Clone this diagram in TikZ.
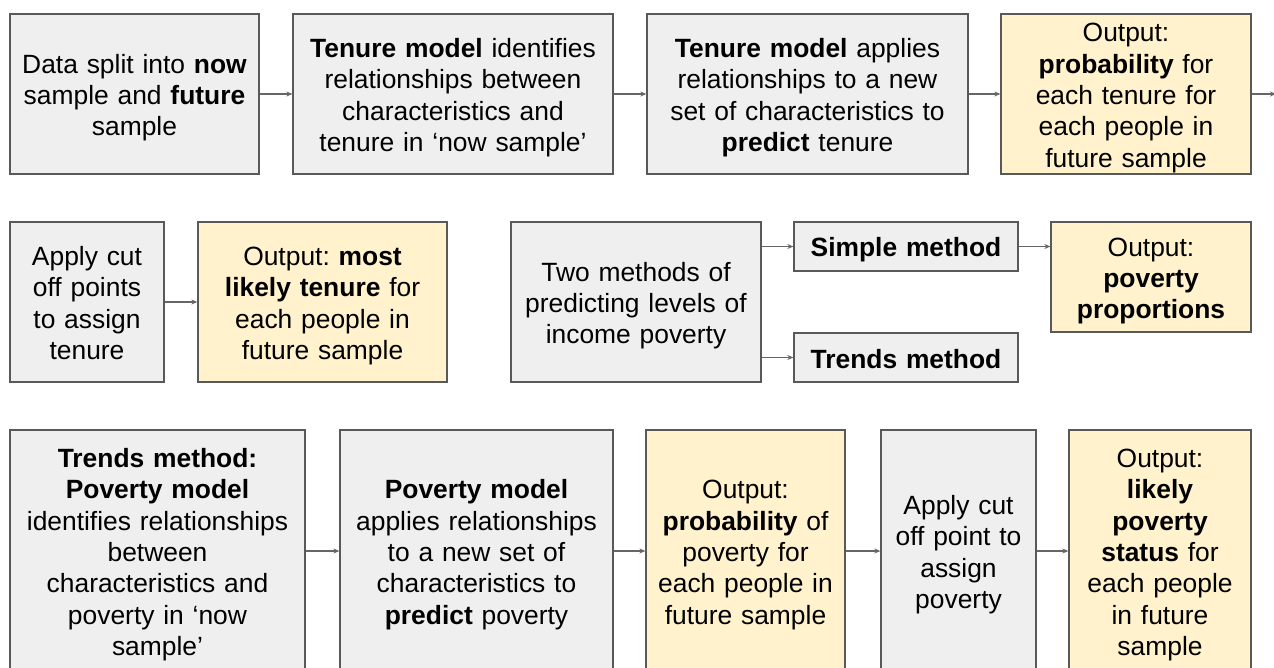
\documentclass[tikz,border=0pt]{standalone}
\usepackage{fontspec}
\setmainfont{Liberation Sans}
\usetikzlibrary{arrows.meta}
\definecolor{boxgray}{HTML}{EFEFEF}
\definecolor{boxyellow}{HTML}{FFF2CC}
\definecolor{edgegray}{HTML}{595959}
\definecolor{arrgray}{HTML}{666666}
\frenchspacing
\begin{document}
\begin{tikzpicture}[x=1pt,y=-1pt,
  box/.style={draw=edgegray, line width=1.3pt, inner sep=0pt, align=center,
    font=\fontsize{26.4}{31.4}\selectfont\frenchspacing, text=black,
    execute at begin node={\rule{0pt}{27pt}},
    execute at end node={\rule[-6pt]{0pt}{6pt}}},
  wd/.style={minimum width=#1pt, text width=#1pt},
  hd/.style={minimum height=#1pt},
  gbox/.style={box, fill=boxgray},
  ybox/.style={box, fill=boxyellow},
  arr/.style={draw=arrgray, line width=1.3pt, -{Stealth[length=6pt,width=5pt]}}]
\useasboundingbox (0,0) rectangle (1274,668);
\fill[white] (0,0) rectangle (1274,668);
\begin{scope}
\clip (0,0) rectangle (1274,668);
% Row 1
\node[gbox, wd=249, hd=160] (a) at (134.5,94)
  {Data split into \textbf{now}\\sample and \textbf{future}\\sample};
\node[gbox, wd=320, hd=160] (b) at (453,94)
  {\textbf{Tenure model} identifies\\relationships between\\characteristics and\\tenure in ‘now sample’};
\node[gbox, wd=321, hd=160] (c) at (807.5,94)
  {\textbf{Tenure model} applies\\relationships to a new\\set of characteristics to\\\textbf{predict} tenure};
\node[ybox, wd=250, hd=160] (d) at (1126,94)
  {Output:\\\textbf{probability} for\\each tenure for\\each people in\\future sample};
\coordinate (edge) at (1276,94);
\draw[arr] (a.east) -- (b.west);
\draw[arr] (b.east) -- (c.west);
\draw[arr] (c.east) -- (d.west);
\draw[arr] (d.east) -- (edge);
% Row 2
\node[gbox, wd=154, hd=160] (e) at (87,302)
  {Apply cut\\off points\\to assign\\tenure};
\node[ybox, wd=249, hd=160] (f) at (322.5,302)
  {Output: \textbf{most}\\\textbf{likely tenure} for\\each people in\\future sample};
\draw[arr] (e.east) -- (f.west);
\node[gbox, wd=250, hd=160] (g) at (636,302)
  {Two methods of\\predicting levels of\\income poverty};
\node[gbox, wd=224, hd=49] (h) at (906,246.5)
  {\textbf{Simple method}};
\node[gbox, wd=224, hd=49] (i) at (906,357.5)
  {\textbf{Trends method}};
\node[ybox, wd=200, hd=110] (j) at (1151,277)
  {Output:\\\textbf{poverty}\\\textbf{proportions}};
\draw[arr] (g.east |- h.west) -- (h.west);
\draw[arr] (g.east |- i.west) -- (i.west);
\draw[arr] (h.east) -- (h.east -| j.west);
% Row 3
\node[gbox, wd=295, hd=242] (k) at (157.5,551)
  {\textbf{Trends method:}\\\textbf{Poverty model}\\identifies relationships\\between\\characteristics and\\poverty in ‘now\\sample’};
\node[gbox, wd=273, hd=242] (l) at (476.5,551)
  {\textbf{Poverty model}\\applies relationships\\to a new set of\\characteristics to\\\textbf{predict} poverty};
\node[ybox, wd=199, hd=242] (m) at (745.5,551)
  {Output:\\\textbf{probability} of\\poverty for\\each people in\\future sample};
\node[gbox, wd=155, hd=242] (n) at (958.5,551)
  {Apply cut\\off point to\\assign\\poverty};
\node[ybox, wd=182, hd=242] (o) at (1160,551)
  {Output:\\\textbf{likely}\\\textbf{poverty}\\\textbf{status} for\\each people\\in future\\sample};
\draw[arr] (k.east) -- (l.west);
\draw[arr] (l.east) -- (m.west);
\draw[arr] (m.east) -- (n.west);
\draw[arr] (n.east) -- (o.west);
\end{scope}
\end{tikzpicture}
\end{document}
